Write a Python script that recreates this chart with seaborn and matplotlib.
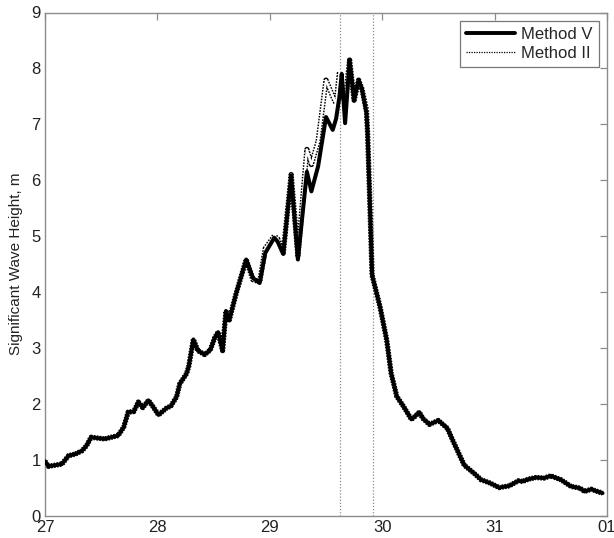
import numpy as np
import pandas as pd
import matplotlib
matplotlib.use("Agg")
import matplotlib.pyplot as plt
from matplotlib.lines import Line2D
import seaborn as sns

# ---- data (day of month, fractional) ----
day = [27.00, 27.03, 27.09, 27.15, 27.21, 27.27, 27.33, 27.37, 27.41, 27.49,
       27.53, 27.59, 27.65, 27.70, 27.74, 27.79, 27.83, 27.87, 27.92, 27.96,
       28.01, 28.08, 28.12, 28.17, 28.20, 28.26, 28.28, 28.32, 28.36, 28.42,
       28.47, 28.51, 28.54, 28.58, 28.61, 28.64, 28.70, 28.79, 28.85, 28.91,
       28.96, 29.04, 29.07, 29.12, 29.19, 29.25, 29.33, 29.37, 29.43, 29.50,
       29.56, 29.59, 29.62, 29.64, 29.67, 29.71, 29.75, 29.79, 29.82, 29.86,
       29.87, 29.89, 29.91, 29.98, 30.04, 30.08, 30.13, 30.19, 30.26, 30.29,
       30.33, 30.36, 30.42, 30.50, 30.58, 30.64, 30.73, 30.82, 30.88, 30.96,
       31.04, 31.13, 31.21, 31.25, 31.30, 31.37, 31.44, 31.50, 31.59, 31.68,
       31.76, 31.80, 31.86, 31.90, 31.96]

method_v = [0.97, 0.88, 0.90, 0.92, 1.07, 1.10, 1.16, 1.25, 1.40, 1.38,
            1.37, 1.40, 1.43, 1.58, 1.85, 1.86, 2.03, 1.93, 2.06, 1.95,
            1.80, 1.92, 1.96, 2.12, 2.36, 2.54, 2.68, 3.15, 2.95, 2.88,
            2.96, 3.18, 3.28, 2.95, 3.66, 3.50, 3.97, 4.58, 4.25, 4.16,
            4.70, 4.97, 4.90, 4.68, 6.08, 4.58, 6.15, 5.80, 6.25, 7.13,
            6.90, 7.10, 7.50, 7.90, 7.02, 8.15, 7.43, 7.79, 7.63, 7.20,
            6.85, 5.60, 4.30, 3.74, 3.14, 2.54, 2.13, 1.95, 1.72, 1.77,
            1.85, 1.74, 1.63, 1.70, 1.56, 1.29, 0.90, 0.75, 0.64, 0.58,
            0.50, 0.53, 0.62, 0.61, 0.65, 0.68, 0.67, 0.71, 0.64, 0.52,
            0.49, 0.43, 0.47, 0.44, 0.40]

method_ii = [0.97, 0.88, 0.90, 0.92, 1.07, 1.10, 1.16, 1.25, 1.40, 1.38,
             1.37, 1.40, 1.43, 1.58, 1.85, 1.86, 2.03, 1.93, 2.06, 1.95,
             1.80, 1.92, 1.96, 2.12, 2.36, 2.54, 2.68, 3.15, 2.95, 2.88,
             2.96, 3.18, 3.28, 2.95, 3.66, 3.50, 3.97, 4.58, 4.22, 4.18,
             4.78, 5.00, 4.95, 4.70, 6.10, 4.65, 6.55, 6.28, 6.70, 7.79,
             7.50, 7.37, 7.94, 7.60, 7.37, 8.15, 7.43, 7.79, 7.63, 7.25,
             6.85, 5.60, 4.30, 3.74, 3.14, 2.54, 2.13, 1.95, 1.72, 1.77,
             1.85, 1.74, 1.63, 1.70, 1.56, 1.29, 0.90, 0.75, 0.64, 0.58,
             0.50, 0.53, 0.62, 0.61, 0.65, 0.68, 0.67, 0.71, 0.64, 0.52,
             0.49, 0.43, 0.47, 0.44, 0.40]

marker_days = [29.625, 29.917]
x_ticks = [27, 28, 29, 30, 31, 32]
x_tick_labels = ["27", "28", "29", "30", "31", "01"]
y_ticks = list(range(0, 10))

df = pd.DataFrame({"day": day, "Method V": method_v, "Method II": method_ii})

sns.set_theme(style="white")
plt.rcParams["font.family"] = ["Liberation Sans", "DejaVu Sans"]

fig = plt.figure(figsize=(6.14, 5.38), dpi=100)
ax = fig.add_axes([45 / 614, 1 - 515.5 / 538, (607 - 45) / 614, (515.5 - 12.5) / 538])

for d in marker_days:
    ax.axvline(d, color="#8a8a8a", lw=0.9, ls=(0, (1, 1.5)), zorder=1)

# Method II: hollow finely-dotted look
sns.lineplot(data=df, x="day", y="Method II", ax=ax, color="black", lw=3.8,
             ls=(0, (0.3, 0.25)), zorder=2, sort=False)
sns.lineplot(data=df, x="day", y="Method II", ax=ax, color="white", lw=1.7,
             zorder=3, sort=False)
# Method V: solid thick
sns.lineplot(data=df, x="day", y="Method V", ax=ax, color="black", lw=2.9,
             zorder=4, sort=False)

ax.set_xlim(27, 32)
ax.set_ylim(0, 9)
ax.set_xticks(x_ticks)
ax.set_xticklabels(x_tick_labels)
ax.set_yticks(y_ticks)
ax.set_xlabel("")
ax.set_ylabel("Significant Wave Height, m", fontsize=11, color="#222222", labelpad=6)

for s in ax.spines.values():
    s.set_color("#8c8c8c")
    s.set_linewidth(1.0)
ax.tick_params(axis="both", which="both", direction="in", length=5, width=0.9,
               color="#8c8c8c", labelsize=12, labelcolor="#222222",
               top=True, right=True, pad=3)

handles = [Line2D([], [], color="black", lw=2.8),
           Line2D([], [], color="black", lw=0.9, ls=(0, (1, 1)))]
leg = ax.legend(handles, ["Method V", "Method II"], loc="upper right",
                fontsize=12, frameon=True, fancybox=False, handlelength=2.9,
                borderaxespad=0.5, borderpad=0.35, labelspacing=0.25,
                handletextpad=0.4)
leg.get_frame().set_edgecolor("#555555")
leg.get_frame().set_linewidth(0.9)

fig.savefig("out.png", dpi=100)
